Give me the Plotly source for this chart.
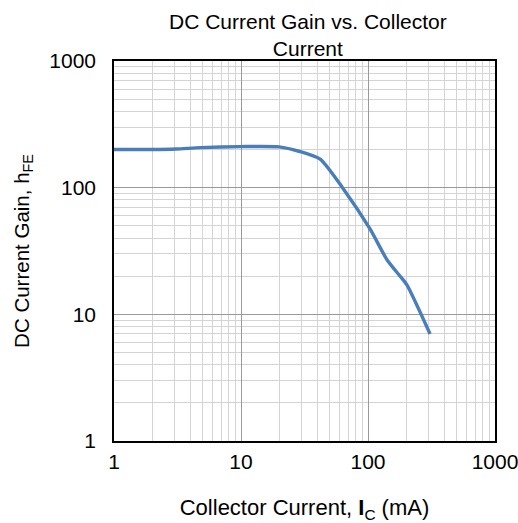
import plotly.graph_objects as go

ic_ma = [1, 2, 3.1, 4.8, 10, 20, 29, 42, 63, 104, 141, 179, 203, 308]
hfe = [200, 200, 202, 207, 211, 210, 193, 168, 100, 47, 27, 20, 17, 7.0]

x_ticks = [1, 10, 100, 1000]
y_ticks = [1, 10, 100, 1000]

font = "Liberation Sans, Arial, sans-serif"

fig = go.Figure()
fig.add_trace(go.Scatter(
    x=ic_ma, y=hfe, mode="lines",
    line=dict(color="#4a7ebb", width=3.4, shape="spline", smoothing=0.6),
    showlegend=False,
))

axis_common = dict(
    type="log", automargin=False, ticklabeloverflow="allow",
    showline=True, linecolor="black", linewidth=1.5, mirror=True,
    showgrid=True, gridcolor="#9a9a9a", gridwidth=1,
    ticks="", zeroline=False,
    tickfont=dict(family=font, size=21, color="black"),
    minor=dict(showgrid=True, gridcolor="#d4d4d4", gridwidth=1, dtick="D1", ticks=""),
)

fig.update_xaxes(
    range=[0, 3], tickvals=x_ticks, ticktext=[str(v) for v in x_ticks],
    ticklabelstandoff=1,
    title=dict(text="Collector Current, <b>I</b><sub>C</sub> (mA)",
               font=dict(family=font, size=22, color="black"), standoff=35),
    **axis_common,
)
fig.update_yaxes(
    range=[0, 3], tickvals=y_ticks, ticktext=[str(v) for v in y_ticks],
    ticklabelstandoff=12,
    title=dict(text="DC Current Gain, h<sub>FE</sub>",
               font=dict(family=font, size=20.5, color="black"), standoff=14),
    **axis_common,
)

fig.update_layout(
    width=518, height=523,
    margin=dict(l=114, r=23, t=61, b=82),
    paper_bgcolor="white", plot_bgcolor="white",
)
fig.add_annotation(
    text="DC Current Gain vs. Collector<br>Current",
    xref="paper", yref="paper", x=0.51, y=1, xanchor="center", yanchor="bottom",
    yshift=-1, showarrow=False,
    font=dict(family=font, size=21, color="black"),
)

fig.write_html("out.html")
